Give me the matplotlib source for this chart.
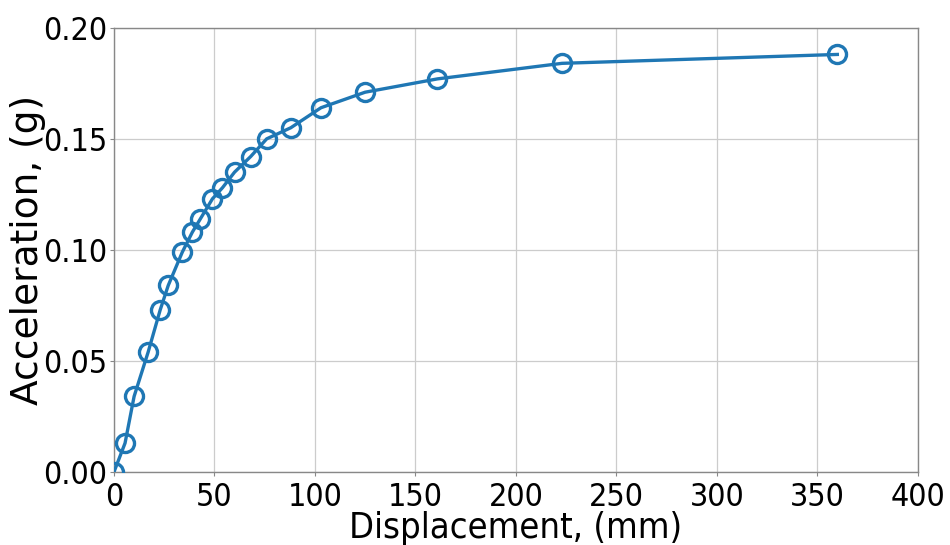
import matplotlib
matplotlib.use("Agg")
import matplotlib.pyplot as plt

# displacement (mm) and acceleration (g)
displacement = [0, 5.5, 10, 17, 23, 27, 34, 39, 43, 49, 54, 60, 68, 76,
                88, 103, 125, 161, 223, 360]
acceleration = [0.0, 0.013, 0.034, 0.054, 0.073, 0.084, 0.099, 0.108,
                0.114, 0.123, 0.128, 0.135, 0.142, 0.150, 0.155, 0.164,
                0.171, 0.177, 0.184, 0.188]

xticks = [0, 50, 100, 150, 200, 250, 300, 350, 400]
yticks = [0.00, 0.05, 0.10, 0.15, 0.20]

# the reference text looks horizontally squeezed -> condensed face
plt.rcParams["font.family"] = "DejaVu Sans"
plt.rcParams["font.stretch"] = "condensed"

fig = plt.figure(figsize=(9.5, 5.45), dpi=100)
ax = fig.add_axes([0.12, 0.134, 0.846, 0.815])

line, = ax.plot(displacement, acceleration, color="#1f77b4", linewidth=2.4,
                marker="o", markersize=13, markerfacecolor="none",
                markeredgewidth=2.4, zorder=3)
line.set_clip_path(ax.patch)

ax.set_xlim(0, 400)
ax.set_ylim(0, 0.20)
ax.set_xticks(xticks)
ax.set_yticks(yticks)
ax.set_yticklabels([f"{v:.2f}" for v in yticks])

ax.grid(True, color="#cccccc", linewidth=0.9)
ax.set_axisbelow(True)
for s in ax.spines.values():
    s.set_color("#888888")
    s.set_linewidth(1.0)

ax.tick_params(axis="both", length=3, width=0.8, color="#888888",
               labelsize=23, pad=2)
ax.tick_params(axis="x", pad=4)
ax.set_xlabel("Displacement, (mm)", fontsize=26, labelpad=-1.5)
# rotated label keeps its normal width in the reference
ax.set_ylabel("Acceleration, (g)", fontsize=27, fontstretch="normal")
ax.yaxis.set_label_coords(-0.085, 0.5)

fig.savefig("out.png", dpi=100)
